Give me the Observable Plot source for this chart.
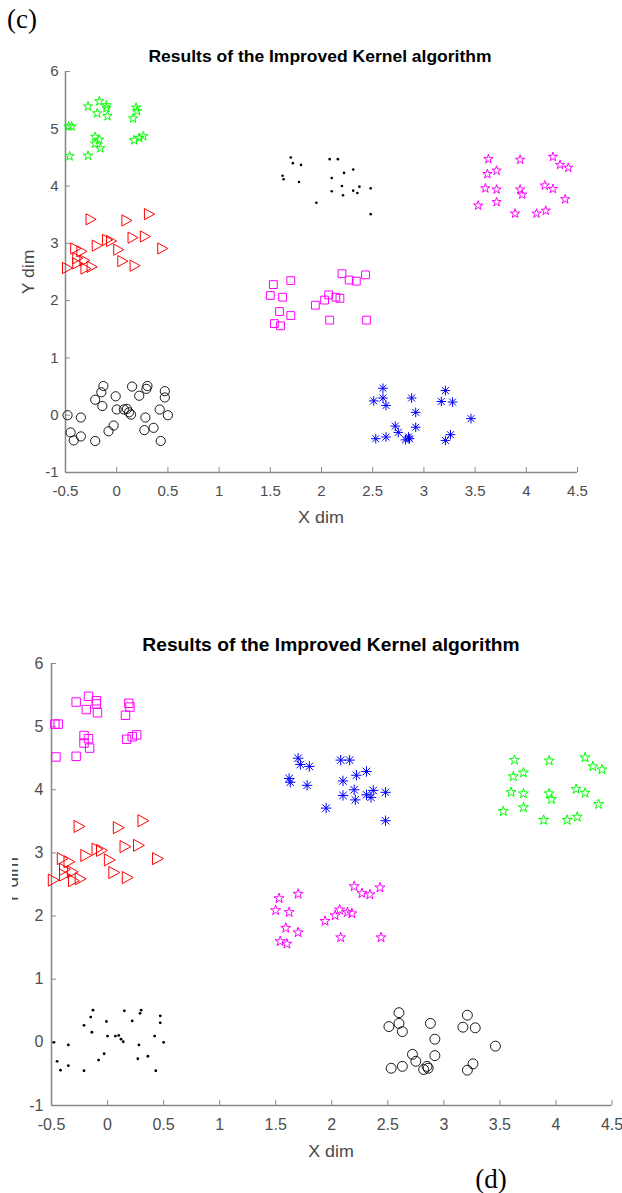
<!DOCTYPE html>
<html>
<head>
<meta charset="utf-8">
<script src="https://cdn.jsdelivr.net/npm/d3@7"></script>
<script src="https://cdn.jsdelivr.net/npm/@observablehq/plot@0.6"></script>
<style>
  html, body { margin: 0; padding: 0; background: #ffffff; }
  #page { position: relative; width: 622px; height: 1193px; overflow: hidden; background: #ffffff;
          font-family: "Liberation Sans", Arial, Helvetica, sans-serif; }
  #page > svg { position: absolute; left: 0; overflow: visible; }
  .txt { position: absolute; white-space: nowrap; line-height: 1; }
  .title { font-weight: bold; color: #000000; }
  .axlabel { color: #4a4a4a; }
  .panel { font-family: "Liberation Serif", "Times New Roman", serif; color: #000000; }
  .cover { position: absolute; background: #ffffff; }
</style>
</head>
<body>
<div id="page"></div>
<script>
// ---------- data ----------
const xDomain = [-0.5, 4.5];
const yDomain = [-1, 6];
const xTicks = [-0.5, 0, 0.5, 1, 1.5, 2, 2.5, 3, 3.5, 4, 4.5];
const yTicks = [-1, 0, 1, 2, 3, 4, 5, 6];

const titleText = "Results of the Improved Kernel algorithm";
const xLabel = "X dim";
const yLabel = "Y dim";
const panelLabels = ["(c)", "(d)"];

// cluster near (-0.15, 5)
const clusterA = [[-0.47,5.04],[-0.44,5.04],[-0.46,4.52],[-0.28,4.53],[-0.28,5.39],[-0.17,5.48],[-0.19,5.27],
  [-0.10,5.41],[-0.10,5.36],[-0.09,5.22],[-0.21,4.86],[-0.17,4.81],[-0.21,4.74],[-0.16,4.66],
  [0.19,5.37],[0.20,5.31],[0.16,5.18],[0.17,4.80],[0.22,4.84],[0.26,4.87]];
// cluster near (0, 3)
const clusterB = [[-0.48,2.57],[-0.40,2.91],[-0.34,2.86],[-0.38,2.74],[-0.38,2.65],[-0.31,2.70],[-0.30,2.56],
  [-0.24,2.59],[-0.25,3.42],[-0.19,2.96],[-0.09,3.06],[-0.05,3.04],[0.02,2.89],[0.06,2.69],
  [0.10,3.40],[0.16,3.10],[0.18,2.61],[0.28,3.12],[0.32,3.51],[0.45,2.91]];
// cluster near (2, 4)
const clusterC = [[1.70,4.50],[1.72,4.40],[1.80,4.37],[1.62,4.18],[1.63,4.12],[1.78,4.07],[2.08,4.47],
  [2.16,4.47],[2.22,4.23],[2.31,4.29],[2.10,4.14],[2.20,4.00],[2.10,3.91],[2.21,3.84],[2.31,3.92],
  [2.35,3.88],[2.37,3.99],[2.48,3.96],[1.95,3.71],[2.48,3.51]];
// cluster near (4, 4)
const clusterD = [[3.63,4.47],[3.94,4.46],[4.26,4.51],[4.33,4.37],[4.41,4.32],[3.62,4.21],[3.71,4.27],
  [3.60,3.96],[3.71,3.94],[3.94,3.94],[3.96,3.85],[4.18,4.01],[4.26,3.95],[4.38,3.77],[3.53,3.66],
  [3.71,3.72],[3.89,3.52],[4.10,3.52],[4.19,3.57]];
// cluster near (2, 2)
const clusterE = [[1.53,2.28],[1.70,2.35],[1.50,2.09],[1.62,2.06],[1.59,1.81],[1.70,1.74],[1.54,1.60],
  [1.60,1.56],[1.94,1.92],[2.03,2.01],[2.07,2.10],[2.14,2.06],[2.18,2.04],[2.20,2.47],[2.27,2.36],
  [2.34,2.34],[2.43,2.45],[2.08,1.66],[2.44,1.66]];
// cluster near (0, 0)
const clusterF = [[-0.48,0.00],[-0.35,-0.04],[-0.45,-0.30],[-0.42,-0.44],[-0.35,-0.37],[-0.21,-0.45],
  [-0.21,0.27],[-0.14,0.16],[-0.15,0.40],[-0.13,0.51],[-0.01,0.33],[0.00,0.10],[0.07,0.10],[0.10,0.11],
  [0.12,0.05],[0.14,0.01],[-0.03,-0.18],[-0.08,-0.28],[0.15,0.50],[0.22,0.34],[0.30,0.51],[0.29,0.46],
  [0.28,-0.04],[0.27,-0.26],[0.36,-0.22],[0.42,0.10],[0.47,0.42],[0.47,0.31],[0.50,0.00],[0.43,-0.45]];
// cluster near (3, 0)
const clusterG = [[2.51,0.25],[2.60,0.47],[2.60,0.30],[2.63,0.17],[2.53,-0.41],[2.63,-0.38],[2.72,-0.19],
  [2.75,-0.30],[2.82,-0.43],[2.85,-0.38],[2.86,-0.41],[2.88,0.30],[2.92,0.05],[2.92,-0.21],[3.17,0.24],
  [3.21,0.43],[3.28,0.23],[3.21,-0.44],[3.26,-0.34],[3.46,-0.06]];

const clusters = [clusterA, clusterB, clusterC, clusterD, clusterE, clusterF, clusterG];
// marker used for each cluster in panel (c) and panel (d)
const markersC = ["greenStar","redTriangle","blackDot","magentaStar","magentaSquare","blackCircle","blueAsterisk"];
const markersD = ["magentaSquare","redTriangle","blueAsterisk","greenStar","magentaStar","blackDot","blackCircle"];

// ---------- marker shapes ----------
const rad = s => Math.sqrt(s / Math.PI);
const symStar = { draw(c, s) { const r = rad(s), ri = r * 0.382;
  for (let i = 0; i < 10; i++) { const a = -Math.PI / 2 + i * Math.PI / 5, q = i % 2 ? ri : r;
    const x = q * Math.cos(a), y = q * Math.sin(a); if (i) c.lineTo(x, y); else c.moveTo(x, y); }
  c.closePath(); } };
const symTriRight = { draw(c, s) { const r = rad(s);
  c.moveTo(r * 0.9, 0); c.lineTo(-r * 0.9, -r); c.lineTo(-r * 0.9, r); c.closePath(); } };
const symSquare = { draw(c, s) { const r = rad(s); c.rect(-r, -r, 2 * r, 2 * r); } };
const symCircle = { draw(c, s) { const r = rad(s); c.moveTo(r, 0); c.arc(0, 0, r, 0, 2 * Math.PI); } };
const symAsterisk = { draw(c, s) { const r = rad(s), d = r * 0.72;
  c.moveTo(-r, 0); c.lineTo(r, 0); c.moveTo(0, -r); c.lineTo(0, r);
  c.moveTo(-d, -d); c.lineTo(d, d); c.moveTo(-d, d); c.lineTo(d, -d); } };

function markerStyle(name, k) {
  switch (name) {
    case "greenStar":     return {symbol: symStar, r: 4.9 * k, stroke: "#00ff00", fill: "none", strokeWidth: 1};
    case "magentaStar":   return {symbol: symStar, r: 4.9 * k, stroke: "#ff00ff", fill: "none", strokeWidth: 1};
    case "redTriangle":   return {symbol: symTriRight, r: 5.6 * k, stroke: "#ff0000", fill: "none", strokeWidth: 1};
    case "magentaSquare": return {symbol: symSquare, r: 3.9 * k, stroke: "#ff00ff", fill: "none", strokeWidth: 1};
    case "blackCircle":   return {symbol: symCircle, r: 4.6 * k, stroke: "#000000", fill: "none", strokeWidth: 0.9};
    case "blueAsterisk":  return {symbol: symAsterisk, r: 4.8 * k, stroke: "#0000ff", fill: "none", strokeWidth: 1};
    case "blackDot":      return {symbol: symCircle, r: 1.3 * k, stroke: "none", fill: "#000000"};
  }
}

const axisGray = "#8a8a8a";
const labelGray = "#4d4d4d";

function makeChart(markers, g) {
  const marks = [
    Plot.ruleX([xDomain[0]], {stroke: axisGray, strokeWidth: 1.6}),
    Plot.ruleY([yDomain[0]], {stroke: axisGray, strokeWidth: 1.6}),
    Plot.axisX(xTicks, {anchor: "bottom", tickSize: -5, tickPadding: g.padX, tickFormat: d => String(d),
      stroke: axisGray, fill: labelGray, fontSize: g.tickFont, label: null}),
    Plot.axisY(yTicks, {anchor: "left", tickSize: -5, tickPadding: g.padY, tickFormat: d => String(d),
      stroke: axisGray, fill: labelGray, fontSize: g.tickFont, label: null})
  ];
  clusters.forEach((pts, i) => {
    marks.push(Plot.dot(pts, {x: d => d[0], y: d => d[1], ...markerStyle(markers[i], g.ms)}));
  });
  const svg = Plot.plot({
    width: 622, height: g.height,
    marginTop: g.mt, marginBottom: g.mb, marginLeft: g.ml, marginRight: g.mr,
    x: {domain: xDomain}, y: {domain: yDomain},
    style: {fontFamily: '"Liberation Sans", Arial, sans-serif', background: "transparent", overflow: "visible"},
    marks
  });
  svg.style.top = g.top + "px";
  return svg;
}

const page = document.getElementById("page");
page.appendChild(makeChart(markersC, {top: 40, height: 472, mt: 31, mb: 40, ml: 65, mr: 45, ms: 1, tickFont: 15, padX: 18, padY: 12}));
page.appendChild(makeChart(markersD, {top: 650, height: 495, mt: 13, mb: 40, ml: 51, mr: 10.5, ms: 1.08, tickFont: 16, padX: 18, padY: 13}));

function addText(text, cls, x, y, size, sx, rotate) {
  const el = document.createElement("div");
  el.className = "txt " + cls;
  el.textContent = text;
  el.style.left = x + "px";
  el.style.top = y + "px";
  el.style.fontSize = size + "px";
  el.style.transform = `translate(-50%, -50%)${rotate ? " rotate(-90deg)" : ""} scaleX(${sx})`;
  page.appendChild(el);
  return el;
}
// panel (c)
addText(titleText, "title", 320, 56, 16.5, 1.06);
addText(xLabel, "axlabel", 321, 518, 16, 1.12);
addText(yLabel, "axlabel", 29, 272, 16, 1.1, true);
addText(panelLabels[0], "panel", 22, 19, 27, 1);
// panel (d)
addText(titleText, "title", 331, 645, 18.5, 1.04);
addText(xLabel, "axlabel", 331, 1151, 17, 1.05);
addText(yLabel, "axlabel", 12, 881, 18, 1.05, true);
const cover = document.createElement("div");
cover.className = "cover";
cover.style.left = "0px"; cover.style.top = "840px"; cover.style.width = "11.5px"; cover.style.height = "90px";
page.appendChild(cover);
addText(panelLabels[1], "panel", 491, 1179, 27, 1);
</script>
</body>
</html>
